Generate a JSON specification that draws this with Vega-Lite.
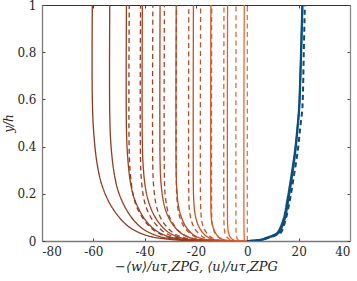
{
  "$schema": "https://vega.github.io/schema/vega-lite/v6.json",
  "width": 308,
  "height": 236,
  "autosize": {"type": "none"},
  "padding": {"left": 42, "top": 5, "right": 7, "bottom": 40},
  "background": "white",
  "config": {
    "view": {"stroke": null},
    "axis": {"labelFont": "DejaVu Serif", "titleFont": "DejaVu Serif", "labelFontSize": 12, "titleFontSize": 13, "labelColor": "#262626", "titleColor": "#262626", "grid": false, "tickColor": "#444", "domainColor": "#666", "titleFontWeight": "normal"}
  },
  "data": {"values": [
    {"c":"wA1","g":"A","q":"w","x":0,"y":0},{"c":"wA1","g":"A","q":"w","x":-25.4,"y":0.003},{"c":"wA1","g":"A","q":"w","x":-32.0,"y":0.0091},{"c":"wA1","g":"A","q":"w","x":-37.4,"y":0.0181},{"c":"wA1","g":"A","q":"w","x":-42.3,"y":0.0362},{"c":"wA1","g":"A","q":"w","x":-46.2,"y":0.0604},{"c":"wA1","g":"A","q":"w","x":-50.1,"y":0.1027},{"c":"wA1","g":"A","q":"w","x":-53.8,"y":0.1631},{"c":"wA1","g":"A","q":"w","x":-56.8,"y":0.2416},{"c":"wA1","g":"A","q":"w","x":-58.6,"y":0.3322},{"c":"wA1","g":"A","q":"w","x":-59.8,"y":0.453},{"c":"wA1","g":"A","q":"w","x":-60.4,"y":0.604},{"c":"wA1","g":"A","q":"w","x":-60.4,"y":1},
    {"c":"wA2","g":"A","q":"w","x":0,"y":0},{"c":"wA2","g":"A","q":"w","x":-22.5,"y":0.0027},{"c":"wA2","g":"A","q":"w","x":-28.4,"y":0.008},{"c":"wA2","g":"A","q":"w","x":-33.2,"y":0.0161},{"c":"wA2","g":"A","q":"w","x":-37.5,"y":0.0322},{"c":"wA2","g":"A","q":"w","x":-41.0,"y":0.0536},{"c":"wA2","g":"A","q":"w","x":-44.5,"y":0.0911},{"c":"wA2","g":"A","q":"w","x":-47.7,"y":0.1447},{"c":"wA2","g":"A","q":"w","x":-50.4,"y":0.2144},{"c":"wA2","g":"A","q":"w","x":-52.0,"y":0.2948},{"c":"wA2","g":"A","q":"w","x":-53.1,"y":0.402},{"c":"wA2","g":"A","q":"w","x":-53.6,"y":0.536},{"c":"wA2","g":"A","q":"w","x":-53.6,"y":1},
    {"c":"wA3","g":"A","q":"w","x":0,"y":0},{"c":"wA3","g":"A","q":"w","x":-19.8,"y":0.0024},{"c":"wA3","g":"A","q":"w","x":-25.0,"y":0.0071},{"c":"wA3","g":"A","q":"w","x":-29.2,"y":0.0141},{"c":"wA3","g":"A","q":"w","x":-33.0,"y":0.0283},{"c":"wA3","g":"A","q":"w","x":-36.0,"y":0.0471},{"c":"wA3","g":"A","q":"w","x":-39.1,"y":0.0801},{"c":"wA3","g":"A","q":"w","x":-41.9,"y":0.1272},{"c":"wA3","g":"A","q":"w","x":-44.3,"y":0.1884},{"c":"wA3","g":"A","q":"w","x":-45.7,"y":0.2591},{"c":"wA3","g":"A","q":"w","x":-46.6,"y":0.3533},{"c":"wA3","g":"A","q":"w","x":-47.1,"y":0.471},{"c":"wA3","g":"A","q":"w","x":-47.1,"y":1},
    {"c":"wA4","g":"A","q":"w","x":0,"y":0},{"c":"wA4","g":"A","q":"w","x":-17.2,"y":0.002},{"c":"wA4","g":"A","q":"w","x":-21.7,"y":0.0061},{"c":"wA4","g":"A","q":"w","x":-25.4,"y":0.0123},{"c":"wA4","g":"A","q":"w","x":-28.6,"y":0.0245},{"c":"wA4","g":"A","q":"w","x":-31.3,"y":0.0409},{"c":"wA4","g":"A","q":"w","x":-33.9,"y":0.0695},{"c":"wA4","g":"A","q":"w","x":-36.4,"y":0.1104},{"c":"wA4","g":"A","q":"w","x":-38.4,"y":0.1636},{"c":"wA4","g":"A","q":"w","x":-39.7,"y":0.225},{"c":"wA4","g":"A","q":"w","x":-40.5,"y":0.3068},{"c":"wA4","g":"A","q":"w","x":-40.9,"y":0.409},{"c":"wA4","g":"A","q":"w","x":-40.9,"y":1},
    {"c":"wA5","g":"A","q":"w","x":0,"y":0},{"c":"wA5","g":"A","q":"w","x":-14.3,"y":0.0017},{"c":"wA5","g":"A","q":"w","x":-18.0,"y":0.0051},{"c":"wA5","g":"A","q":"w","x":-21.1,"y":0.0102},{"c":"wA5","g":"A","q":"w","x":-23.8,"y":0.0204},{"c":"wA5","g":"A","q":"w","x":-26.0,"y":0.034},{"c":"wA5","g":"A","q":"w","x":-28.2,"y":0.0578},{"c":"wA5","g":"A","q":"w","x":-30.3,"y":0.0918},{"c":"wA5","g":"A","q":"w","x":-32.0,"y":0.136},{"c":"wA5","g":"A","q":"w","x":-33.0,"y":0.187},{"c":"wA5","g":"A","q":"w","x":-33.7,"y":0.255},{"c":"wA5","g":"A","q":"w","x":-34.0,"y":0.34},{"c":"wA5","g":"A","q":"w","x":-34.0,"y":1},
    {"c":"wA6","g":"A","q":"w","x":0,"y":0},{"c":"wA6","g":"A","q":"w","x":-11.6,"y":0.0014},{"c":"wA6","g":"A","q":"w","x":-14.7,"y":0.0042},{"c":"wA6","g":"A","q":"w","x":-17.2,"y":0.0083},{"c":"wA6","g":"A","q":"w","x":-19.4,"y":0.0166},{"c":"wA6","g":"A","q":"w","x":-21.2,"y":0.0277},{"c":"wA6","g":"A","q":"w","x":-23.0,"y":0.0471},{"c":"wA6","g":"A","q":"w","x":-24.7,"y":0.0748},{"c":"wA6","g":"A","q":"w","x":-26.0,"y":0.1108},{"c":"wA6","g":"A","q":"w","x":-26.9,"y":0.1524},{"c":"wA6","g":"A","q":"w","x":-27.4,"y":0.2078},{"c":"wA6","g":"A","q":"w","x":-27.7,"y":0.277},{"c":"wA6","g":"A","q":"w","x":-27.7,"y":1},
    {"c":"wA7","g":"A","q":"w","x":0,"y":0},{"c":"wA7","g":"A","q":"w","x":-8.8,"y":0.0011},{"c":"wA7","g":"A","q":"w","x":-11.1,"y":0.0032},{"c":"wA7","g":"A","q":"w","x":-13.0,"y":0.0063},{"c":"wA7","g":"A","q":"w","x":-14.7,"y":0.0126},{"c":"wA7","g":"A","q":"w","x":-16.1,"y":0.021},{"c":"wA7","g":"A","q":"w","x":-17.4,"y":0.0357},{"c":"wA7","g":"A","q":"w","x":-18.7,"y":0.0567},{"c":"wA7","g":"A","q":"w","x":-19.7,"y":0.084},{"c":"wA7","g":"A","q":"w","x":-20.4,"y":0.1155},{"c":"wA7","g":"A","q":"w","x":-20.8,"y":0.1575},{"c":"wA7","g":"A","q":"w","x":-21.0,"y":0.21},{"c":"wA7","g":"A","q":"w","x":-21.0,"y":1},
    {"c":"wA8","g":"A","q":"w","x":0,"y":0},{"c":"wA8","g":"A","q":"w","x":-6.0,"y":0.0007},{"c":"wA8","g":"A","q":"w","x":-7.5,"y":0.0021},{"c":"wA8","g":"A","q":"w","x":-8.8,"y":0.0043},{"c":"wA8","g":"A","q":"w","x":-9.9,"y":0.0085},{"c":"wA8","g":"A","q":"w","x":-10.9,"y":0.0142},{"c":"wA8","g":"A","q":"w","x":-11.8,"y":0.0241},{"c":"wA8","g":"A","q":"w","x":-12.6,"y":0.0383},{"c":"wA8","g":"A","q":"w","x":-13.3,"y":0.0568},{"c":"wA8","g":"A","q":"w","x":-13.8,"y":0.0781},{"c":"wA8","g":"A","q":"w","x":-14.1,"y":0.1065},{"c":"wA8","g":"A","q":"w","x":-14.2,"y":0.142},{"c":"wA8","g":"A","q":"w","x":-14.2,"y":1},
    {"c":"wA9","g":"A","q":"w","x":0,"y":0},{"c":"wA9","g":"A","q":"w","x":-3.2,"y":0.0004},{"c":"wA9","g":"A","q":"w","x":-4.1,"y":0.0012},{"c":"wA9","g":"A","q":"w","x":-4.8,"y":0.0023},{"c":"wA9","g":"A","q":"w","x":-5.4,"y":0.0046},{"c":"wA9","g":"A","q":"w","x":-5.9,"y":0.0077},{"c":"wA9","g":"A","q":"w","x":-6.4,"y":0.0131},{"c":"wA9","g":"A","q":"w","x":-6.9,"y":0.0208},{"c":"wA9","g":"A","q":"w","x":-7.2,"y":0.0308},{"c":"wA9","g":"A","q":"w","x":-7.5,"y":0.0424},{"c":"wA9","g":"A","q":"w","x":-7.6,"y":0.0578},{"c":"wA9","g":"A","q":"w","x":-7.7,"y":0.077},{"c":"wA9","g":"A","q":"w","x":-7.7,"y":1},
    {"c":"wA10","g":"A","q":"w","x":0,"y":0},{"c":"wA10","g":"A","q":"w","x":-0.8,"y":0.0015},{"c":"wA10","g":"A","q":"w","x":-1.1,"y":0.005},{"c":"wA10","g":"A","q":"w","x":-1.2,"y":0.012},{"c":"wA10","g":"A","q":"w","x":-1.2,"y":1},
    {"c":"wB1","g":"B","q":"w","x":0,"y":0},{"c":"wB1","g":"B","q":"w","x":-19.3,"y":0.0018},{"c":"wB1","g":"B","q":"w","x":-24.4,"y":0.0055},{"c":"wB1","g":"B","q":"w","x":-28.5,"y":0.011},{"c":"wB1","g":"B","q":"w","x":-32.2,"y":0.0221},{"c":"wB1","g":"B","q":"w","x":-35.2,"y":0.0368},{"c":"wB1","g":"B","q":"w","x":-38.2,"y":0.0626},{"c":"wB1","g":"B","q":"w","x":-40.9,"y":0.0994},{"c":"wB1","g":"B","q":"w","x":-43.2,"y":0.1472},{"c":"wB1","g":"B","q":"w","x":-44.6,"y":0.2024},{"c":"wB1","g":"B","q":"w","x":-45.5,"y":0.276},{"c":"wB1","g":"B","q":"w","x":-46.0,"y":0.368},{"c":"wB1","g":"B","q":"w","x":-46.0,"y":1},
    {"c":"wB2","g":"B","q":"w","x":0,"y":0},{"c":"wB2","g":"B","q":"w","x":-17.5,"y":0.0017},{"c":"wB2","g":"B","q":"w","x":-22.0,"y":0.005},{"c":"wB2","g":"B","q":"w","x":-25.8,"y":0.01},{"c":"wB2","g":"B","q":"w","x":-29.1,"y":0.02},{"c":"wB2","g":"B","q":"w","x":-31.8,"y":0.0333},{"c":"wB2","g":"B","q":"w","x":-34.5,"y":0.0566},{"c":"wB2","g":"B","q":"w","x":-37.0,"y":0.0899},{"c":"wB2","g":"B","q":"w","x":-39.1,"y":0.1331},{"c":"wB2","g":"B","q":"w","x":-40.4,"y":0.183},{"c":"wB2","g":"B","q":"w","x":-41.2,"y":0.2496},{"c":"wB2","g":"B","q":"w","x":-41.6,"y":0.3328},{"c":"wB2","g":"B","q":"w","x":-41.6,"y":1},
    {"c":"wB3","g":"B","q":"w","x":0,"y":0},{"c":"wB3","g":"B","q":"w","x":-15.5,"y":0.0015},{"c":"wB3","g":"B","q":"w","x":-19.5,"y":0.0044},{"c":"wB3","g":"B","q":"w","x":-22.8,"y":0.0088},{"c":"wB3","g":"B","q":"w","x":-25.8,"y":0.0177},{"c":"wB3","g":"B","q":"w","x":-28.2,"y":0.0294},{"c":"wB3","g":"B","q":"w","x":-30.5,"y":0.05},{"c":"wB3","g":"B","q":"w","x":-32.8,"y":0.0795},{"c":"wB3","g":"B","q":"w","x":-34.6,"y":0.1178},{"c":"wB3","g":"B","q":"w","x":-35.7,"y":0.1619},{"c":"wB3","g":"B","q":"w","x":-36.4,"y":0.2208},{"c":"wB3","g":"B","q":"w","x":-36.8,"y":0.2944},{"c":"wB3","g":"B","q":"w","x":-36.8,"y":1},
    {"c":"wB4","g":"B","q":"w","x":0,"y":0},{"c":"wB4","g":"B","q":"w","x":-13.6,"y":0.0013},{"c":"wB4","g":"B","q":"w","x":-17.1,"y":0.0039},{"c":"wB4","g":"B","q":"w","x":-20.0,"y":0.0078},{"c":"wB4","g":"B","q":"w","x":-22.6,"y":0.0155},{"c":"wB4","g":"B","q":"w","x":-24.7,"y":0.0258},{"c":"wB4","g":"B","q":"w","x":-26.8,"y":0.0439},{"c":"wB4","g":"B","q":"w","x":-28.7,"y":0.0698},{"c":"wB4","g":"B","q":"w","x":-30.4,"y":0.1034},{"c":"wB4","g":"B","q":"w","x":-31.3,"y":0.1421},{"c":"wB4","g":"B","q":"w","x":-32.0,"y":0.1938},{"c":"wB4","g":"B","q":"w","x":-32.3,"y":0.2584},{"c":"wB4","g":"B","q":"w","x":-32.3,"y":1},
    {"c":"wB5","g":"B","q":"w","x":0,"y":0},{"c":"wB5","g":"B","q":"w","x":-11.6,"y":0.0011},{"c":"wB5","g":"B","q":"w","x":-14.6,"y":0.0033},{"c":"wB5","g":"B","q":"w","x":-17.1,"y":0.0066},{"c":"wB5","g":"B","q":"w","x":-19.3,"y":0.0132},{"c":"wB5","g":"B","q":"w","x":-21.1,"y":0.0221},{"c":"wB5","g":"B","q":"w","x":-22.9,"y":0.0375},{"c":"wB5","g":"B","q":"w","x":-24.6,"y":0.0596},{"c":"wB5","g":"B","q":"w","x":-25.9,"y":0.0883},{"c":"wB5","g":"B","q":"w","x":-26.8,"y":0.1214},{"c":"wB5","g":"B","q":"w","x":-27.3,"y":0.1656},{"c":"wB5","g":"B","q":"w","x":-27.6,"y":0.2208},{"c":"wB5","g":"B","q":"w","x":-27.6,"y":1},
    {"c":"wB6","g":"B","q":"w","x":0,"y":0},{"c":"wB6","g":"B","q":"w","x":-9.6,"y":0.0009},{"c":"wB6","g":"B","q":"w","x":-12.1,"y":0.0027},{"c":"wB6","g":"B","q":"w","x":-14.1,"y":0.0055},{"c":"wB6","g":"B","q":"w","x":-16.0,"y":0.0109},{"c":"wB6","g":"B","q":"w","x":-17.4,"y":0.0182},{"c":"wB6","g":"B","q":"w","x":-18.9,"y":0.031},{"c":"wB6","g":"B","q":"w","x":-20.3,"y":0.0492},{"c":"wB6","g":"B","q":"w","x":-21.4,"y":0.073},{"c":"wB6","g":"B","q":"w","x":-22.1,"y":0.1003},{"c":"wB6","g":"B","q":"w","x":-22.6,"y":0.1368},{"c":"wB6","g":"B","q":"w","x":-22.8,"y":0.1824},{"c":"wB6","g":"B","q":"w","x":-22.8,"y":1},
    {"c":"wB7","g":"B","q":"w","x":0,"y":0},{"c":"wB7","g":"B","q":"w","x":-7.6,"y":0.0007},{"c":"wB7","g":"B","q":"w","x":-9.6,"y":0.0022},{"c":"wB7","g":"B","q":"w","x":-11.3,"y":0.0044},{"c":"wB7","g":"B","q":"w","x":-12.7,"y":0.0087},{"c":"wB7","g":"B","q":"w","x":-13.9,"y":0.0146},{"c":"wB7","g":"B","q":"w","x":-15.1,"y":0.0248},{"c":"wB7","g":"B","q":"w","x":-16.2,"y":0.0393},{"c":"wB7","g":"B","q":"w","x":-17.1,"y":0.0582},{"c":"wB7","g":"B","q":"w","x":-17.7,"y":0.0801},{"c":"wB7","g":"B","q":"w","x":-18.0,"y":0.1092},{"c":"wB7","g":"B","q":"w","x":-18.2,"y":0.1456},{"c":"wB7","g":"B","q":"w","x":-18.2,"y":1},
    {"c":"wB8","g":"B","q":"w","x":0,"y":0},{"c":"wB8","g":"B","q":"w","x":-5.8,"y":0.0006},{"c":"wB8","g":"B","q":"w","x":-7.4,"y":0.0017},{"c":"wB8","g":"B","q":"w","x":-8.6,"y":0.0033},{"c":"wB8","g":"B","q":"w","x":-9.7,"y":0.0067},{"c":"wB8","g":"B","q":"w","x":-10.6,"y":0.0111},{"c":"wB8","g":"B","q":"w","x":-11.5,"y":0.0189},{"c":"wB8","g":"B","q":"w","x":-12.4,"y":0.03},{"c":"wB8","g":"B","q":"w","x":-13.1,"y":0.0445},{"c":"wB8","g":"B","q":"w","x":-13.5,"y":0.0612},{"c":"wB8","g":"B","q":"w","x":-13.8,"y":0.0834},{"c":"wB8","g":"B","q":"w","x":-13.9,"y":0.1112},{"c":"wB8","g":"B","q":"w","x":-13.9,"y":1},
    {"c":"wB9","g":"B","q":"w","x":0,"y":0},{"c":"wB9","g":"B","q":"w","x":-3.8,"y":0.0004},{"c":"wB9","g":"B","q":"w","x":-4.8,"y":0.0011},{"c":"wB9","g":"B","q":"w","x":-5.6,"y":0.0022},{"c":"wB9","g":"B","q":"w","x":-6.4,"y":0.0044},{"c":"wB9","g":"B","q":"w","x":-7.0,"y":0.0073},{"c":"wB9","g":"B","q":"w","x":-7.6,"y":0.0124},{"c":"wB9","g":"B","q":"w","x":-8.1,"y":0.0197},{"c":"wB9","g":"B","q":"w","x":-8.6,"y":0.0291},{"c":"wB9","g":"B","q":"w","x":-8.8,"y":0.04},{"c":"wB9","g":"B","q":"w","x":-9.0,"y":0.0546},{"c":"wB9","g":"B","q":"w","x":-9.1,"y":0.0728},{"c":"wB9","g":"B","q":"w","x":-9.1,"y":1},
    {"c":"wB10","g":"B","q":"w","x":0,"y":0},{"c":"wB10","g":"B","q":"w","x":-2.3,"y":0.0005},{"c":"wB10","g":"B","q":"w","x":-3.1,"y":0.0021},{"c":"wB10","g":"B","q":"w","x":-3.7,"y":0.006},{"c":"wB10","g":"B","q":"w","x":-4.1,"y":0.0141},{"c":"wB10","g":"B","q":"w","x":-4.35,"y":0.0264},{"c":"wB10","g":"B","q":"w","x":-4.4,"y":0.0352},{"c":"wB10","g":"B","q":"w","x":-4.4,"y":1},
    {"c":"wB11","g":"B","q":"w","x":0,"y":0},{"c":"wB11","g":"B","q":"w","x":0,"y":1},
    {"c":"uA1","g":"A","q":"u","x":0,"y":0},{"c":"uA1","g":"A","q":"u","x":2.5,"y":0.002},{"c":"uA1","g":"A","q":"u","x":5.2,"y":0.0055},{"c":"uA1","g":"A","q":"u","x":7.5,"y":0.014},{"c":"uA1","g":"A","q":"u","x":10.0,"y":0.024},{"c":"uA1","g":"A","q":"u","x":11.7,"y":0.035},{"c":"uA1","g":"A","q":"u","x":14.0,"y":0.09},{"c":"uA1","g":"A","q":"u","x":15.6,"y":0.175},{"c":"uA1","g":"A","q":"u","x":17.2,"y":0.28},{"c":"uA1","g":"A","q":"u","x":18.6,"y":0.386},{"c":"uA1","g":"A","q":"u","x":19.5,"y":0.48},{"c":"uA1","g":"A","q":"u","x":20.1,"y":0.556},{"c":"uA1","g":"A","q":"u","x":20.3,"y":0.6},{"c":"uA1","g":"A","q":"u","x":20.9,"y":0.8},{"c":"uA1","g":"A","q":"u","x":21.4,"y":1},
    {"c":"uA2","g":"A","q":"u","x":0,"y":0},{"c":"uA2","g":"A","q":"u","x":2.8,"y":0.002},{"c":"uA2","g":"A","q":"u","x":5.8,"y":0.0055},{"c":"uA2","g":"A","q":"u","x":8.2,"y":0.014},{"c":"uA2","g":"A","q":"u","x":10.6,"y":0.024},{"c":"uA2","g":"A","q":"u","x":12.3,"y":0.035},{"c":"uA2","g":"A","q":"u","x":14.5,"y":0.09},{"c":"uA2","g":"A","q":"u","x":16.0,"y":0.175},{"c":"uA2","g":"A","q":"u","x":17.5,"y":0.28},{"c":"uA2","g":"A","q":"u","x":18.8,"y":0.386},{"c":"uA2","g":"A","q":"u","x":19.6,"y":0.48},{"c":"uA2","g":"A","q":"u","x":20.2,"y":0.556},{"c":"uA2","g":"A","q":"u","x":20.4,"y":0.6},{"c":"uA2","g":"A","q":"u","x":21.0,"y":0.8},{"c":"uA2","g":"A","q":"u","x":21.5,"y":1},
    {"c":"uB1","g":"B","q":"u","x":0,"y":0},{"c":"uB1","g":"B","q":"u","x":2.5,"y":0.0015},{"c":"uB1","g":"B","q":"u","x":5.5,"y":0.005},{"c":"uB1","g":"B","q":"u","x":8.5,"y":0.014},{"c":"uB1","g":"B","q":"u","x":11.0,"y":0.024},{"c":"uB1","g":"B","q":"u","x":13.0,"y":0.035},{"c":"uB1","g":"B","q":"u","x":14.9,"y":0.09},{"c":"uB1","g":"B","q":"u","x":16.6,"y":0.175},{"c":"uB1","g":"B","q":"u","x":18.2,"y":0.28},{"c":"uB1","g":"B","q":"u","x":19.7,"y":0.386},{"c":"uB1","g":"B","q":"u","x":20.6,"y":0.48},{"c":"uB1","g":"B","q":"u","x":21.4,"y":0.556},{"c":"uB1","g":"B","q":"u","x":21.6,"y":0.6},{"c":"uB1","g":"B","q":"u","x":22.0,"y":0.8},{"c":"uB1","g":"B","q":"u","x":22.4,"y":1}
  ]},
  "layer": [
    {
      "mark": {"type": "line", "interpolate": "catmull-rom", "clip": true},
      "encoding": {
        "x": {"field": "x", "type": "quantitative", "scale": {"domain": [-80, 40], "nice": false},
          "axis": {"orient": "bottom", "values": [-80, -60, -40, -20, 0, 20, 40], "labelExpr": "replace(format(datum.value, 'd'), '−', '-')", "tickSize": -3, "labelPadding": 8, "title": "−⟨w⟩/uτ,ZPG, ⟨u⟩/uτ,ZPG", "titleFontStyle": "italic", "titlePadding": 3, "domainColor": "#7a7a7a", "domainWidth": 1.3}},
        "y": {"field": "y", "type": "quantitative", "scale": {"domain": [0, 1], "nice": false},
          "axis": {"orient": "left", "values": [0, 0.2, 0.4, 0.6, 0.8, 1], "format": "~g", "tickSize": -3, "labelPadding": 9, "title": "y/h", "titleFontStyle": "italic", "titleFontSize": 12, "titlePadding": 1, "domainColor": "#7a7a7a", "domainWidth": 1.3}},
        "order": {"field": "y", "type": "quantitative"},
        "detail": {"field": "c", "type": "nominal"},
        "color": {"field": "c", "type": "nominal", "legend": null,
          "scale": {"domain": ["wA1","wA2","wA3","wA4","wA5","wA6","wA7","wA8","wA9","wA10","wB1","wB2","wB3","wB4","wB5","wB6","wB7","wB8","wB9","wB10","wB11","uA1","uA2","uB1"],
                    "range": ["#873a1f","#8f3c1f","#983e1f","#a24120","#ad4522","#b84a24","#c35026","#cd5729","#d85f2e","#e26a36","#8d3b1e","#963d1e","#a0401f","#aa4320","#b44722","#be4c24","#c85227","#d1592a","#da612f","#e26a35","#e9743d","#0a4f7e","#0a4f7e","#0b4a78"]}},
        "strokeDash": {"field": "g", "type": "nominal", "legend": null, "scale": {"domain": ["A", "B"], "range": [[1, 0], [5, 3.5]]}},
        "strokeWidth": {"field": "q", "type": "nominal", "legend": null, "scale": {"domain": ["w", "u"], "range": [1.3, 2]}}
      }
    },
    {
      "mark": {"type": "point", "opacity": 0},
      "encoding": {
        "x": {"field": "x", "type": "quantitative", "axis": {"orient": "top", "values": [-80, -60, -40, -20, 0, 20, 40], "labels": false, "tickSize": -3, "title": null, "domainColor": "#333", "domainWidth": 1.2}},
        "y": {"field": "y", "type": "quantitative", "axis": {"orient": "right", "values": [0, 0.2, 0.4, 0.6, 0.8, 1], "labels": false, "tickSize": -3, "title": null, "domainColor": "#8a8a8a", "domainWidth": 1.3}}
      }
    }
  ],
  "resolve": {"axis": {"x": "independent", "y": "independent"}}
}
